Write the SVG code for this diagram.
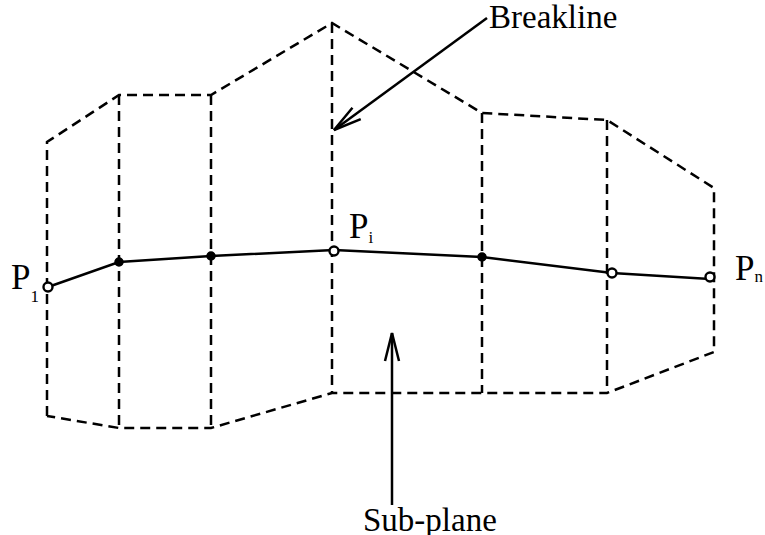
<svg xmlns="http://www.w3.org/2000/svg" width="765" height="535" viewBox="0 0 765 535">
<style>
.d{fill:none;stroke:#000;stroke-width:2.5;stroke-dasharray:10,6}
.s{fill:none;stroke:#000;stroke-width:2.5}
.t{font-family:"Liberation Serif","Times New Roman",serif;fill:#000}
.big{font-size:35px}
.sub{font-size:17px}
.lab{font-size:33px}
.o{fill:#fff;stroke:#000;stroke-width:2.4}
.f{fill:#000;stroke:#000;stroke-width:1.5}
</style>
<defs>
<marker id="ah" markerWidth="34" markerHeight="22" refX="30" refY="10" orient="auto" markerUnits="userSpaceOnUse">
<path d="M2,3 L30,10 L2,17" fill="none" stroke="#000" stroke-width="2.5"/>
</marker>
</defs>
<g id="outline">
<path class="d" d="M47,416 L47,142 L119,95 L211,95 L332,23 L482,113 L607,120 L714,188 L714,352 L607,393 L482,393 L332,393 L211,428 L119,428 L47,416"/>
<path class="d" d="M119,95 L119,428 M211,95 L211,428 M332,23 L332,393 M482,113 L482,393 M607,120 L607,393"/>
</g>
<g id="connectors">
<line class="s" x1="487" y1="18" x2="334" y2="130" marker-end="url(#ah)"/>
<line class="s" x1="392" y1="505" x2="392" y2="333" marker-end="url(#ah)"/>
</g>
<g id="breakline">
<polyline class="s" points="48,287 119,262 211,256 334,250 482,257 612,273 710,279"/>
<circle class="o" cx="48" cy="287" r="4.5"/>
<circle class="f" cx="119" cy="262" r="4"/>
<circle class="f" cx="211" cy="256" r="4"/>
<circle class="o" cx="334" cy="251" r="4.5"/>
<circle class="f" cx="482" cy="257" r="4"/>
<circle class="o" cx="612" cy="273" r="4.5"/>
<circle class="o" cx="710" cy="277" r="4.5"/>
</g>
<g id="labels">
<text class="t big" x="11" y="289">P<tspan class="sub" dy="13">1</tspan></text>
<text class="t big" x="349" y="238">P<tspan class="sub" dy="5">i</tspan></text>
<text class="t big" x="735" y="280">P<tspan class="sub" dy="2">n</tspan></text>
<text class="t lab" x="489" y="28">Breakline</text>
<text class="t lab" x="363" y="531">Sub-plane</text>
</g>
</svg>
